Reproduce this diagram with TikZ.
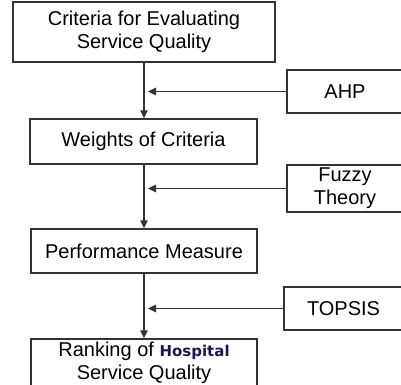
\documentclass[tikz,border=0pt]{standalone}
\usepackage{fontspec}
\setmainfont{Liberation Sans}
\newfontfamily\hospfont{DejaVu Sans}
\usetikzlibrary{arrows.meta}
\definecolor{linec}{HTML}{333333}
\definecolor{navy}{HTML}{1A1A4A}
\begin{document}
\begin{tikzpicture}[x=1pt,y=-1pt,
  box/.style={draw=linec,line width=1.4pt,fill=white,align=center,inner sep=0pt,
    font=\fontsize{20}{23}\selectfont},
  conn/.style={draw=linec,line width=1.4pt,-{Triangle[length=8pt,width=7.5pt]}}]
\useasboundingbox (0,0) rectangle (401,384);
\node[box,minimum width=262pt,minimum height=60pt] (c1) at (144,32) {Criteria for Evaluating\\Service Quality};
\node[box,minimum width=227pt,minimum height=45pt] (c2) at (143.5,141.5) {Weights of Criteria};
\node[box,minimum width=226pt,minimum height=44pt] (c3) at (144,251) {Performance Measure};
\node[box,minimum width=226pt,minimum height=48pt] (c4) at (144,363) {Ranking of {\hospfont\bfseries\color{navy}\fontsize{15}{18}\selectfont Hospital}\\Service Quality};
\node[box,minimum width=116pt,minimum height=43pt] (m1) at (345,91.5) {AHP};
\node[box,minimum width=116pt,minimum height=47pt] (m2) at (345,188.5) {Fuzzy\\Theory};
\node[box,minimum width=119pt,minimum height=43pt] (m3) at (343.5,308.5) {TOPSIS};
\coordinate (j1) at (148,91.5);
\coordinate (j2) at (148,188.5);
\coordinate (j3) at (148,308.5);
\draw[conn] (c1.south -| 144,0) -- (c2.north -| 144,0);
\draw[conn] (c2.south -| 144,0) -- (c3.north -| 144,0);
\draw[conn] (c3.south -| 144,0) -- (c4.north -| 144,0);
\draw[conn] (m1.west) -- (j1);
\draw[conn] (m2.west) -- (j2);
\draw[conn] (m3.west) -- (j3);
\end{tikzpicture}
\end{document}
